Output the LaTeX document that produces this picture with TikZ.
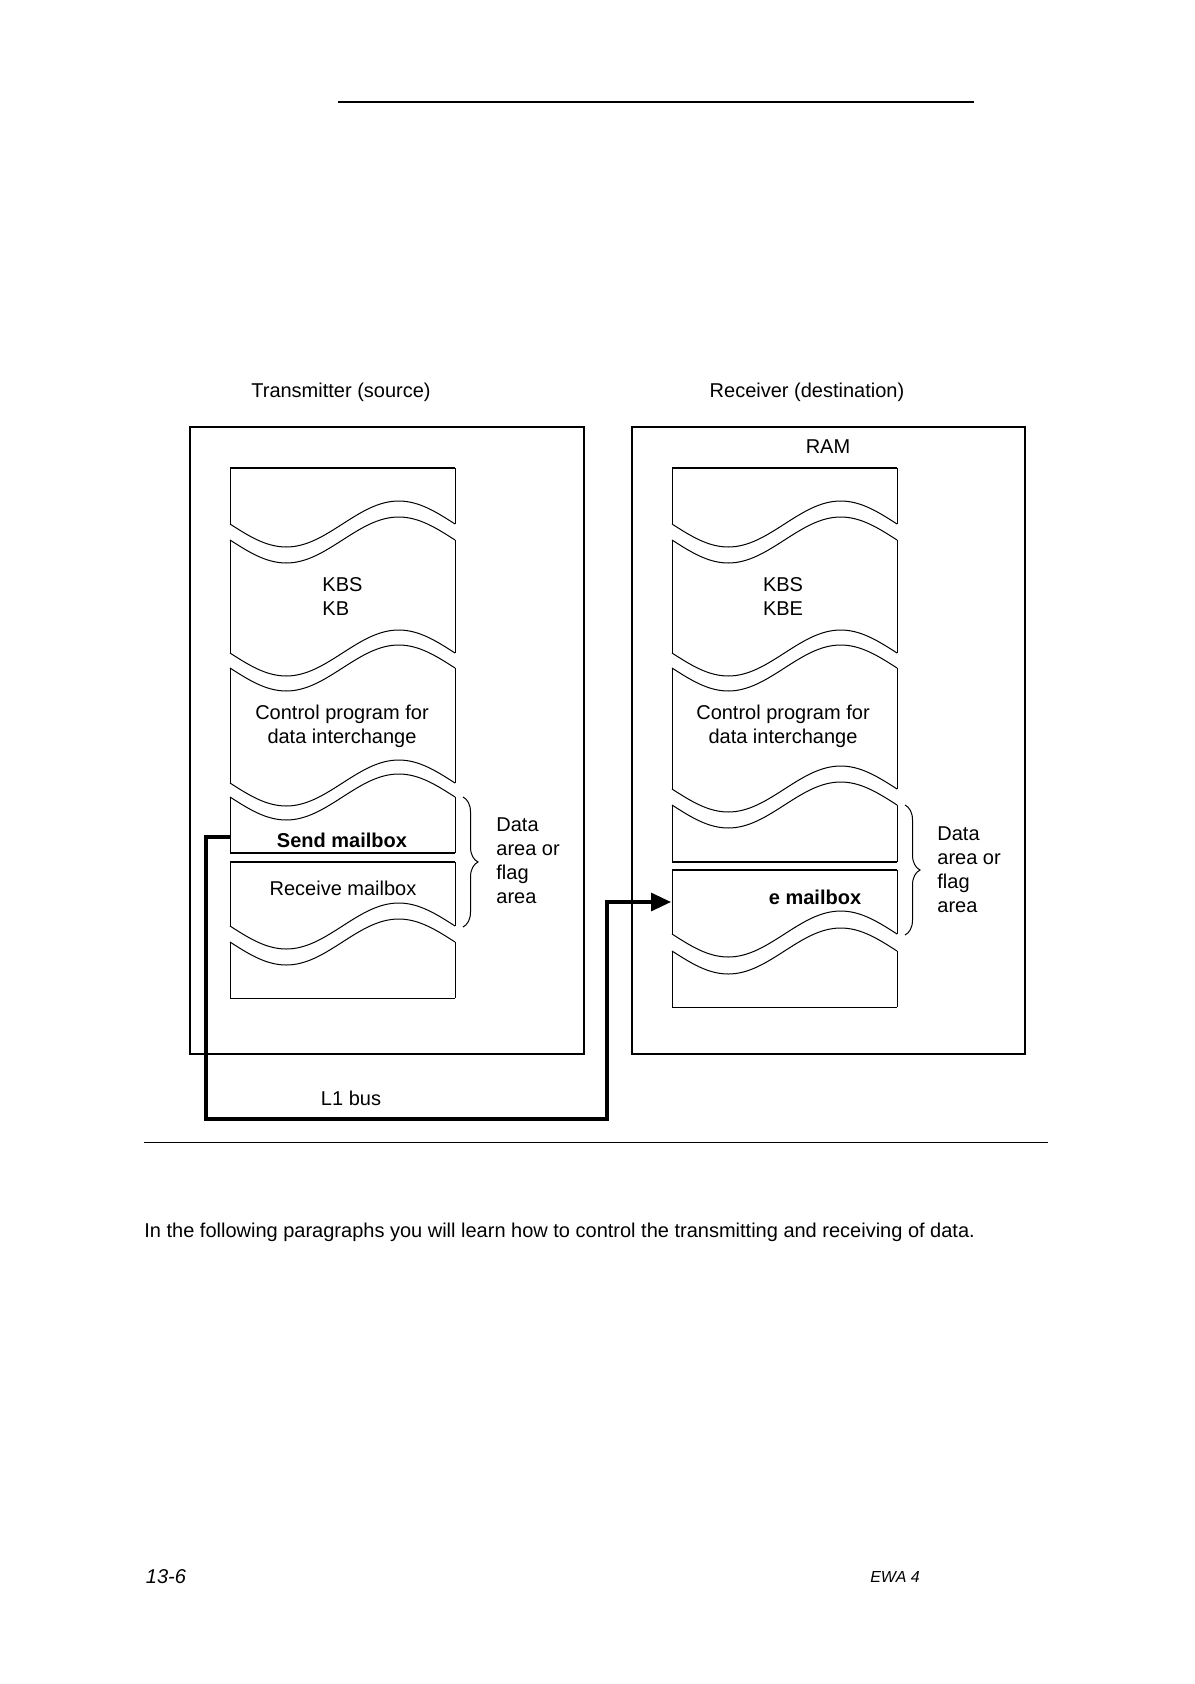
\documentclass[tikz,border=0pt]{standalone}
\usepackage{fontspec}
\setmainfont{Liberation Sans}
\usetikzlibrary{arrows.meta, decorations.pathreplacing}

\tikzset{
  memline/.style={line width=0.5pt},
  memrule/.style={line width=1pt},
  hostbox/.style={line width=0.6pt},
  bus/.style={line width=1.6pt, -{Triangle[length=10pt,width=9pt]}},
  databrace/.style={decorate, decoration={brace, amplitude=7.5pt}, line width=0.5pt},
  lbl/.style={font=\fontsize{10}{12}\selectfont, inner sep=0pt},
}
% one period of the torn edge, 225 units wide
\newcommand{\memwave}[2]{\draw[memline] (#1,#2) sin ++(56.25,23) cos ++(56.25,-23) sin ++(56.25,-23) cos ++(56.25,23);}

\begin{document}
\begin{tikzpicture}[x=0.5pt, y=-0.5pt]
  \useasboundingbox (0,0) rectangle (1194,1684);

  % page rules
  \draw[line width=1.2pt] (338,102) -- (974,102);
  \draw[memline] (144,1142) -- (1048,1142);

  % headings
  \node[lbl] (txhead) at (341,392) {Transmitter (source)};
  \node[lbl] (rxhead) at (807,392) {Receiver (destination)};

  % PLC frames
  \draw[hostbox] (190,427) rectangle (584,1054);
  \draw[hostbox] (632,427) rectangle (1025,1054);
  \node[lbl] (ram) at (828,447) {RAM};

  % transmitter memory column
  \foreach \t/\b in {468/524, 540/653, 668/783, 797/853, 862/926, 942/998}
    \draw[memline] (230,\t) -- (230,\b) (455,\t) -- (455,\b);
  \foreach \y in {524, 540, 653, 668, 783, 797, 926, 942}
    \memwave{230}{\y}
  \draw[memrule] (230,468) -- (455,468);
  \draw[memrule] (230,853) -- (455,853);
  \draw[memrule] (230,862) -- (455,862);
  \draw[memline] (230,998) -- (455,998);

  % receiver memory column
  \foreach \t/\b in {468/524, 540/653, 668/789, 805/862, 870/934, 951/1007}
    \draw[memline] (672,\t) -- (672,\b) (897,\t) -- (897,\b);
  \foreach \y in {524, 540, 653, 668, 789, 805, 934, 951}
    \memwave{672}{\y}
  \draw[memrule] (672,468) -- (897,468);
  \draw[memrule] (672,862) -- (897,862);
  \draw[memrule] (672,870) -- (897,870);
  \draw[memline] (672,1007) -- (897,1007);

  % segment labels
  \node[lbl, align=left] (txkb) at (342.5,597) {KBS\\KB};
  \node[lbl, align=left] (rxkb) at (783,597) {KBS\\KBE};
  \node[lbl, align=center] (txctrl) at (342,726) {Control program for\\data interchange};
  \node[lbl, align=center] (rxctrl) at (783,726) {Control program for\\data interchange};
  \node[lbl, font=\fontsize{10}{12}\selectfont\bfseries] (sendmb) at (342,840) {Send mailbox};
  \node[lbl] (recvmb) at (343,888) {Receive mailbox};
  \node[lbl, font=\fontsize{10}{12}\selectfont\bfseries] (rxmb) at (815,897) {e mailbox};

  % data area braces
  \draw[databrace] (463,797) -- (463,927);
  \node[lbl, align=left, anchor=west] (txdata) at (496,861) {Data\\area or\\flag\\area};
  \draw[databrace] (905,805) -- (905,935);
  \node[lbl, align=left, anchor=west] (rxdata) at (937,870) {Data\\area or\\flag\\area};

  % L1 bus
  \coordinate (sendport) at (230,837);
  \coordinate (busL) at (206,1119);
  \coordinate (busR) at (607,1119);
  \coordinate (recvport) at (671,902);
  \draw[bus] (sendport) -| (busL) -- (busR) |- (recvport);
  \node[lbl] (buslabel) at (351,1098) {L1 bus};

  % body text and footer
  \node[lbl, anchor=west] (para) at (144,1232)
    {In the following paragraphs you will learn how to control the transmitting and receiving of data.};
  \node[lbl, font=\fontsize{10}{12}\selectfont\itshape] (pageno) at (166,1577) {13-6};
  \node[lbl, font=\fontsize{8}{10}\selectfont\itshape] (manual) at (895,1577) {EWA 4};
\end{tikzpicture}
\end{document}
